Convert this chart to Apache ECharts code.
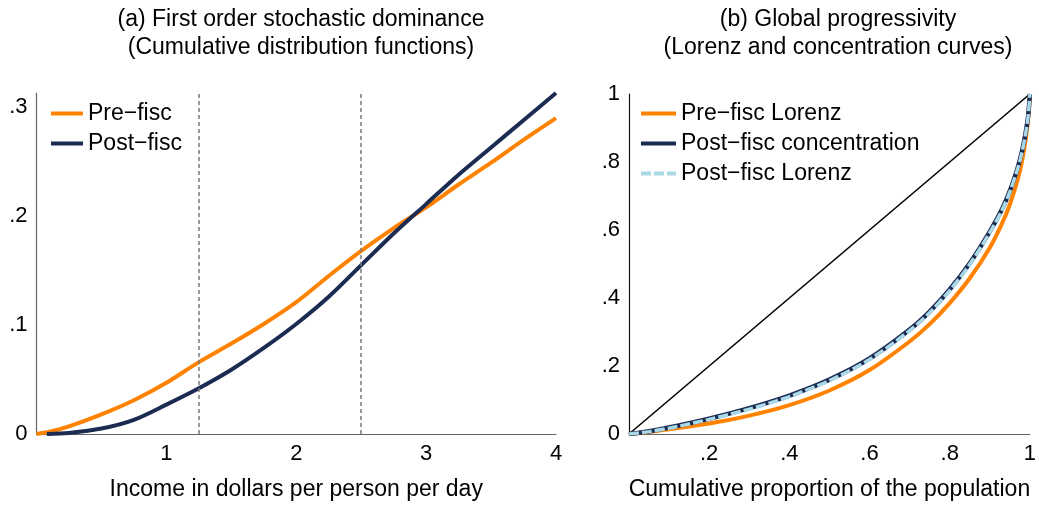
<!DOCTYPE html>
<html>
<head>
<meta charset="utf-8">
<script src="https://cdn.jsdelivr.net/npm/echarts@6/dist/echarts.min.js"></script>
<style>
html,body{margin:0;padding:0;background:#fff;}
#chart{width:1039px;height:506px;}
</style>
</head>
<body>
<div id="chart"></div>
<script>
// ---- Panel (a): CDFs ----
const incomeX = [0, 0.1, 0.25, 0.5, 0.75, 1, 1.25, 1.5, 1.75, 2, 2.25, 2.5, 2.75, 3, 3.25, 3.5, 3.75, 4];
const preFiscCdf = [0, 0.002, 0.007, 0.018, 0.031, 0.047, 0.066, 0.083, 0.101, 0.121, 0.145, 0.168, 0.189, 0.208, 0.229, 0.249, 0.270, 0.290];
const postFiscX = [0.08, 0.25, 0.5, 0.75, 1, 1.25, 1.5, 1.75, 2, 2.25, 2.5, 2.75, 3, 3.25, 3.5, 3.75, 4];
const postFiscCdf = [0, 0.001, 0.005, 0.013, 0.027, 0.042, 0.059, 0.079, 0.101, 0.126, 0.155, 0.184, 0.211, 0.238, 0.263, 0.288, 0.313];
const povertyLines = [1.25, 2.5];

// ---- Panel (b): Lorenz / concentration ----
const popShare = [0, 0.05, 0.1, 0.2, 0.3, 0.4, 0.5, 0.6, 0.7, 0.75, 0.8, 0.85, 0.9, 0.93, 0.95, 0.97, 0.98, 0.99, 0.996, 1];
const preLorenz = [0, 0.006, 0.014, 0.031, 0.054, 0.085, 0.128, 0.188, 0.272, 0.323, 0.385, 0.458, 0.548, 0.618, 0.675, 0.750, 0.800, 0.870, 0.930, 1];
const postConc = [0, 0.008, 0.019, 0.045, 0.076, 0.113, 0.160, 0.222, 0.307, 0.360, 0.425, 0.502, 0.595, 0.660, 0.715, 0.785, 0.830, 0.890, 0.940, 1];
const postLorenz = [0, 0.007, 0.017, 0.043, 0.073, 0.110, 0.157, 0.219, 0.304, 0.357, 0.422, 0.499, 0.592, 0.657, 0.712, 0.782, 0.827, 0.887, 0.938, 1];
const equalityLine = [[0, 0], [1, 1]];

const titles = ['(a) First order stochastic dominance\n(Cumulative distribution functions)',
                '(b) Global progressivity\n(Lorenz and concentration curves)'];
const xNames = ['Income in dollars per person per day', 'Cumulative proportion of the population'];

const ORANGE = '#ff8200', NAVY = '#1c2b52', LBLUE = '#a9d8e6';
const FONT = 'Liberation Sans, Arial, Helvetica, sans-serif';
const FS = 23;
const FS_TICK = 22;

function zip(xs, ys){ return xs.map((x, i) => [x, ys[i]]); }
function tickFmt(v){
  if (Math.abs(v) < 1e-9) return '0';
  if (Math.abs(v - 1) < 1e-9) return '1';
  const t = v * 10;
  if (Math.abs(t - Math.round(t)) < 1e-6) return '.' + Math.round(t);
  return '';
}
function tickFmtNoZero(v){
  if (Math.abs(v) < 1e-9) return '';
  if (Number.isInteger(v)) return String(v);
  return tickFmt(v);
}

const chart = echarts.init(document.getElementById('chart'), null, {renderer: 'canvas'});
const labelStyle = {color: '#000', fontSize: FS_TICK, fontFamily: FONT};
const legendCommon = {
  orient: 'vertical', itemHeight: 14, itemGap: 7,
  itemStyle: {opacity: 0},
  lineStyle: {width: 4},
  textStyle: {fontSize: FS, color: '#000', lineHeight: 22, fontFamily: FONT}
};

chart.setOption({
  animation: false,
  backgroundColor: '#fff',
  textStyle: {fontFamily: FONT},
  title: [
    {text: titles[0], left: 296, top: 1, textAlign: 'center',
     textStyle: {fontSize: FS, fontWeight: 'normal', color: '#000', lineHeight: 28, fontFamily: FONT}},
    {text: titles[1], left: 833, top: 1, textAlign: 'center',
     textStyle: {fontSize: FS, fontWeight: 'normal', color: '#000', lineHeight: 28, fontFamily: FONT}}
  ],
  legend: [
    Object.assign({data: ['Pre−fisc', 'Post−fisc'], left: 44, top: 97, itemWidth: 32}, legendCommon),
    Object.assign({data: ['Pre−fisc Lorenz', 'Post−fisc concentration', 'Post−fisc Lorenz'], left: 634, top: 97, itemWidth: 35}, legendCommon)
  ],
  grid: [
    {left: 36.5, right: 483, top: 93, bottom: 70},
    {left: 629, right: 3, top: 94, bottom: 70}
  ],
  xAxis: [
    {type: 'value', gridIndex: 0, min: 0, max: 4, interval: 1,
     name: xNames[0], nameLocation: 'middle', nameGap: 44,
     nameTextStyle: {fontSize: FS, color: '#000', fontFamily: FONT},
     axisLine: {lineStyle: {color: '#666', width: 1.2}}, axisTick: {show: false},
     splitLine: {show: false},
     axisLabel: Object.assign({margin: 9, formatter: tickFmtNoZero}, labelStyle)},
    {type: 'value', gridIndex: 1, min: 0, max: 1, interval: 0.2,
     name: xNames[1], nameLocation: 'middle', nameGap: 44,
     nameTextStyle: {fontSize: FS, color: '#000', fontFamily: FONT},
     axisLine: {lineStyle: {color: '#666', width: 1.2}}, axisTick: {show: false},
     splitLine: {show: false},
     axisLabel: Object.assign({margin: 9, formatter: tickFmtNoZero}, labelStyle)}
  ],
  yAxis: [
    {type: 'value', gridIndex: 0, min: 0, max: 0.313, interval: 0.1,
     axisLine: {show: true, lineStyle: {color: '#666', width: 1.2}}, axisTick: {show: false},
     splitLine: {show: false},
     axisLabel: Object.assign({margin: 9, formatter: tickFmt}, labelStyle)},
    {type: 'value', gridIndex: 1, min: 0, max: 1, interval: 0.2,
     axisLine: {show: true, lineStyle: {color: '#111', width: 1.2}}, axisTick: {show: false},
     splitLine: {show: false},
     axisLabel: Object.assign({margin: 9, formatter: tickFmt}, labelStyle)}
  ],
  series: [
    {name: 'Pre−fisc', type: 'line', xAxisIndex: 0, yAxisIndex: 0, symbol: 'none', smooth: 0.3,
     data: zip(incomeX, preFiscCdf), lineStyle: {color: ORANGE, width: 4}, itemStyle: {color: ORANGE},
     markLine: {symbol: 'none', silent: true, label: {show: false},
       lineStyle: {color: '#7a7a7a', type: [4, 3], width: 1.5},
       data: povertyLines.map(v => ({xAxis: v}))}},
    {name: 'Post−fisc', type: 'line', xAxisIndex: 0, yAxisIndex: 0, symbol: 'none', smooth: 0.3,
     data: zip(postFiscX, postFiscCdf), lineStyle: {color: NAVY, width: 4}, itemStyle: {color: NAVY}},
    {name: 'equality', type: 'line', xAxisIndex: 1, yAxisIndex: 1, symbol: 'none',
     data: equalityLine, lineStyle: {color: '#000', width: 1.6}},
    {name: 'Pre−fisc Lorenz', type: 'line', xAxisIndex: 1, yAxisIndex: 1, symbol: 'none', smooth: 0.3,
     data: zip(popShare, preLorenz), lineStyle: {color: ORANGE, width: 4}, itemStyle: {color: ORANGE}},
    {name: 'Post−fisc concentration', type: 'line', xAxisIndex: 1, yAxisIndex: 1, symbol: 'none', smooth: 0.3,
     data: zip(popShare, postConc), lineStyle: {color: NAVY, width: 4.5}, itemStyle: {color: NAVY}},
    {name: 'Post−fisc Lorenz', type: 'line', xAxisIndex: 1, yAxisIndex: 1, symbol: 'none', smooth: 0.3,
     data: zip(popShare, postLorenz), lineStyle: {color: LBLUE, width: 3.5, type: [10, 3]}, itemStyle: {color: LBLUE}}
  ]
});
</script>
</body>
</html>
